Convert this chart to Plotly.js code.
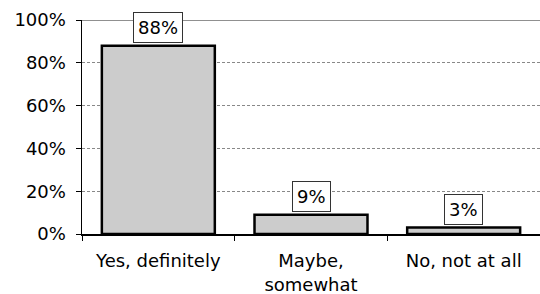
<!DOCTYPE html>
<html><head><meta charset="utf-8">
<script src="https://cdn.plot.ly/plotly-3.0.1.min.js"></script>
<style>html,body{margin:0;padding:0;background:#fff}</style>
</head><body>
<div id="chart" style="width:540px;height:294px"></div>
<script>
const categories = ["Yes, definitely", "Maybe,<br>somewhat", "No, not at all"];
const values = [88, 9, 3];
const labels = ["88%", "9%", "3%"];
const yTicks = [0, 20, 40, 60, 80, 100];
const yTickText = ["0%", "20%", "40%", "60%", "80%", "100%"];

const font = {family: "DejaVu Sans, Verdana, sans-serif", size: 18, color: "#000"};

const trace = {
  type: "bar", x: categories, y: values,
  marker: {color: "#cccccc", line: {color: "#000", width: 2.5}},
  hoverinfo: "none"
};

const annotations = categories.map((c, i) => ({
  x: c, y: values[i], xref: "x", yref: "y",
  text: labels[i], showarrow: false, yanchor: "bottom", yshift: 3,
  bgcolor: "#fff", bordercolor: "#333", borderwidth: 1, borderpad: 4,
  font: font
}));

const layout = {
  width: 540, height: 294,
  margin: {l: 82, r: 0, t: 20, b: 60},
  paper_bgcolor: "#fff", plot_bgcolor: "#fff",
  font: font, showlegend: false, bargap: 0.26,
  xaxis: {
    type: "category", tickson: "boundaries", ticks: "outside", ticklen: 5,
    tickcolor: "#000", showline: true, linecolor: "#000", linewidth: 1.5,
    showgrid: false, tickfont: font, ticklabelstandoff: 10, fixedrange: true
  },
  yaxis: {
    range: [0, 100], tickvals: yTicks, ticktext: yTickText,
    ticks: "outside", ticklen: 5, tickcolor: "#000",
    showline: true, linecolor: "#000", linewidth: 1.5,
    showgrid: true, gridcolor: "#888", griddash: "3px,2px", gridwidth: 1,
    zeroline: false, tickfont: font, ticklabelstandoff: 6, fixedrange: true
  },
  shapes: [{type: "line", xref: "paper", yref: "y", x0: 0, x1: 1, y0: 100, y1: 100,
            line: {color: "#222", width: 1}}],
  annotations: annotations
};

Plotly.newPlot("chart", [trace], layout, {displayModeBar: false, staticPlot: true});
</script>
</body></html>
